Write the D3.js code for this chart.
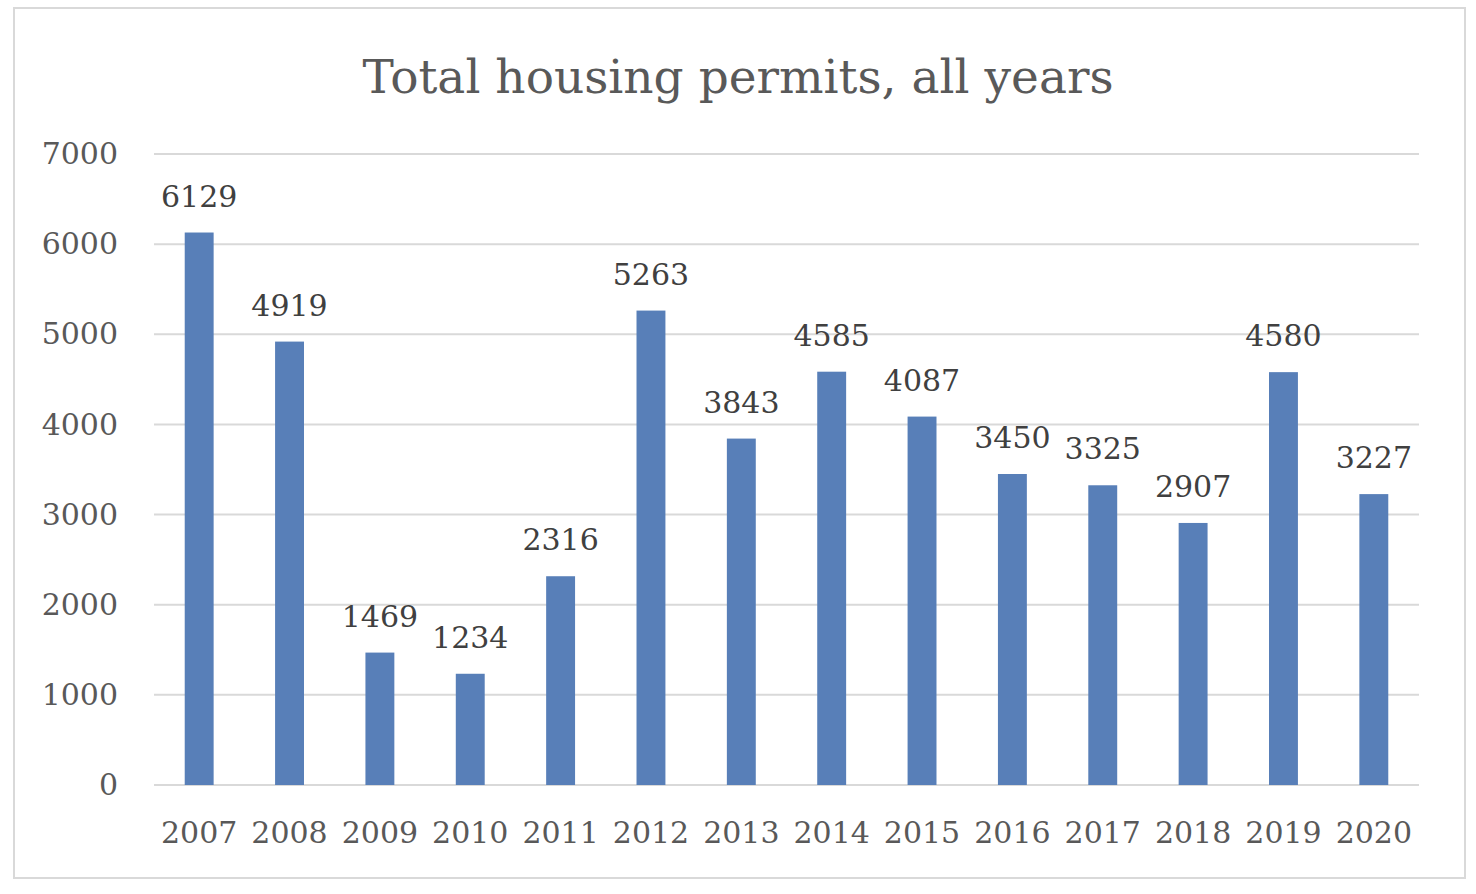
<!DOCTYPE html>
<html>
<head>
<meta charset="utf-8">
<script src="https://cdn.jsdelivr.net/npm/d3@7"></script>
<style>
  body { margin: 0; background: #fff; }
  svg text { font-family: "DejaVu Serif", serif; }
</style>
</head>
<body>
<svg id="chart" width="1476" height="894"></svg>
<script>
// data
var years = ["2007","2008","2009","2010","2011","2012","2013","2014","2015","2016","2017","2018","2019","2020"];
var permits = [6129, 4919, 1469, 1234, 2316, 5263, 3843, 4585, 4087, 3450, 3325, 2907, 4580, 3227];
var yTicks = [0, 1000, 2000, 3000, 4000, 5000, 6000, 7000];

var svg = d3.select("#chart");
var margin = {left: 154, right: 57, top: 154, bottom: 109};
var W = 1476, H = 894;

// chart area frame
svg.append("rect")
  .attr("x", 14).attr("y", 8)
  .attr("width", 1451).attr("height", 870)
  .attr("fill", "#fff").attr("stroke", "#d9d9d9").attr("stroke-width", 2);

var x = d3.scaleBand().domain(years)
  .range([margin.left, W - margin.right])
  .paddingInner(0.68).paddingOuter(0.34);

var y = d3.scaleLinear().domain([0, 7000])
  .range([H - margin.bottom, margin.top]);

// gridlines
svg.append("g").selectAll("line")
  .data(yTicks).enter().append("line")
  .attr("x1", margin.left).attr("x2", W - margin.right)
  .attr("y1", function(d){ return y(d); })
  .attr("y2", function(d){ return y(d); })
  .attr("stroke", "#d9d9d9").attr("stroke-width", 2);

// y axis labels
var yAxis = d3.axisLeft(y).tickValues(yTicks).tickFormat(d3.format("d")).tickSize(0).tickPadding(0);
var yg = svg.append("g").attr("transform", "translate(118,0)").call(yAxis);
yg.select(".domain").remove();
yg.selectAll("text").attr("font-size", 30).attr("fill", "#595959")
  .attr("font-family", "DejaVu Serif, serif");

// x axis labels
var xAxis = d3.axisBottom(x).tickSize(0).tickPadding(0);
var xg = svg.append("g").attr("transform", "translate(0," + (H - margin.bottom) + ")").call(xAxis);
xg.select(".domain").remove();
xg.selectAll("text").attr("font-size", 30).attr("fill", "#595959")
  .attr("font-family", "DejaVu Serif, serif")
  .attr("dy", null).attr("y", 58);

// bars
svg.append("g").selectAll("rect")
  .data(permits).enter().append("rect")
  .attr("x", function(d, i){ return x(years[i]); })
  .attr("width", x.bandwidth())
  .attr("y", function(d){ return y(d); })
  .attr("height", function(d){ return y(0) - y(d); })
  .attr("fill", "#587fb8");

// data labels
svg.append("g").selectAll("text")
  .data(permits).enter().append("text")
  .attr("x", function(d, i){ return x(years[i]) + x.bandwidth() / 2; })
  .attr("y", function(d){ return y(d) - 26; })
  .attr("text-anchor", "middle")
  .attr("font-size", 30).attr("fill", "#404040")
  .text(function(d){ return d; });

// title
svg.append("text")
  .attr("x", 738).attr("y", 93)
  .attr("text-anchor", "middle")
  .attr("font-size", 47).attr("fill", "#595959")
  .text("Total housing permits, all years");
</script>
</body>
</html>
